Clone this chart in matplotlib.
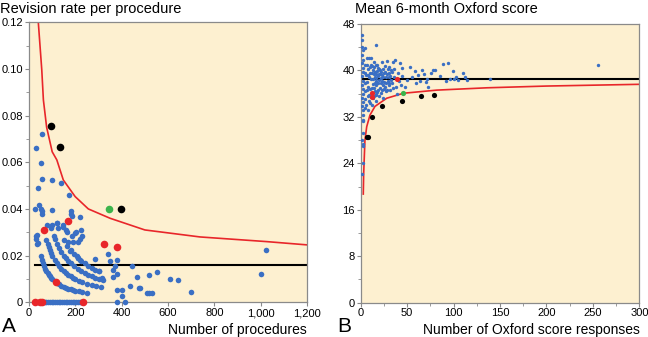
import matplotlib.pyplot as plt
from matplotlib.ticker import MultipleLocator, FuncFormatter

plt.rcParams['font.family'] = ['Liberation Sans', 'DejaVu Sans']

bg = "#fdf0d0"
blue = "#3a6fc4"
red = "#e8262a"
green = "#3cb44b"

# ---- Panel A: revision rate vs number of procedures ----
a_zero_n = [30, 38, 45, 52, 60, 68, 75, 82, 90, 98, 105, 112, 120, 128, 135, 142,
            150, 158, 165, 172, 180, 188, 195, 202, 210, 218, 225, 378, 413]
a_zero_rate = [0.0] * len(a_zero_n)

# points lying on the 1, 2, 3, 4 revision bands
a_band_n = [50, 55, 60, 65, 70, 75, 80, 85, 90, 95, 100, 110, 120, 130, 140, 150, 160,
            170, 180, 190, 200, 215, 230, 250,
            75, 80, 85, 90, 95, 100, 110, 120, 130, 140, 150, 160, 170, 180, 190, 200,
            215, 230, 250, 270, 290, 310,
            110, 120, 130, 140, 150, 160, 170, 180, 195, 210, 225, 240, 255, 270, 285,
            300, 320,
            150, 165, 180, 195, 210, 225, 240, 255, 270, 285, 300]
a_band_rate = [0.020, 0.018, 0.0167, 0.0154, 0.0143, 0.0133, 0.0125, 0.0118, 0.0111,
               0.0105, 0.010, 0.0091, 0.0083, 0.0077, 0.0071, 0.0067, 0.0063, 0.0059,
               0.0056, 0.0053, 0.005, 0.0047, 0.0043, 0.004,
               0.0267, 0.025, 0.0235, 0.0222, 0.021, 0.020, 0.0182, 0.0167, 0.0154,
               0.0143, 0.0133, 0.0125, 0.0118, 0.0111, 0.0105, 0.010, 0.0093, 0.0087,
               0.008, 0.0074, 0.0069, 0.0065,
               0.0273, 0.025, 0.0231, 0.0214, 0.020, 0.0188, 0.0176, 0.0167, 0.0154,
               0.0143, 0.0133, 0.0125, 0.0118, 0.0111, 0.0105, 0.010, 0.0094,
               0.0267, 0.0242, 0.0222, 0.0205, 0.019, 0.0178, 0.0167, 0.0157, 0.0148,
               0.014, 0.0133]

a_scatter_n = [56, 32, 50, 58, 98, 137, 40, 173, 45, 50, 55, 55, 26, 100, 180, 183, 186,
               220, 30, 32, 35, 96, 121, 127, 148, 160, 109, 185, 203, 225, 191, 220,
               228, 170, 177, 206, 212, 220, 284, 343, 350, 380, 372, 362, 443, 302, 313,
               362, 378, 464, 516, 553, 608, 644, 701, 438, 474, 479, 508, 520, 530, 378,
               403, 403, 1002, 1022, 33, 37, 76, 98, 119, 148, 163, 199, 213]
a_scatter_rate = [0.0722, 0.0663, 0.0596, 0.053, 0.0524, 0.051, 0.0489, 0.046, 0.0415,
                  0.040, 0.039, 0.038, 0.040, 0.0395, 0.039, 0.038, 0.037, 0.0364,
                  0.0285, 0.027, 0.025, 0.032, 0.034, 0.032, 0.033, 0.031, 0.0285,
                  0.0285, 0.030, 0.031, 0.026, 0.027, 0.0285, 0.0257, 0.022, 0.020,
                  0.019, 0.018, 0.0185, 0.0205, 0.0176, 0.018, 0.0157, 0.0137, 0.0157,
                  0.0133, 0.0103, 0.0107, 0.0123, 0.011, 0.0118, 0.013, 0.010, 0.0095,
                  0.0045, 0.0068, 0.0063, 0.006, 0.004, 0.004, 0.004, 0.0053, 0.0053,
                  0.0027, 0.012, 0.0223, 0.0289, 0.0253, 0.0331, 0.033, 0.0339, 0.0324,
                  0.0303, 0.0296, 0.026]

a_red_n = [26, 47, 55, 232, 63, 168, 322, 378, 115]
a_red_rate = [0, 0, 0, 0, 0.031, 0.035, 0.025, 0.0237, 0.0087]
a_black_n = [94, 135, 397]
a_black_rate = [0.0756, 0.0666, 0.040]
a_green_n = [345]
a_green_rate = [0.040]

a_limit_n = [36, 40, 55, 62, 76, 100, 120, 148, 199, 256, 350, 500, 738, 1026, 1200]
a_limit_rate = [0.135, 0.12, 0.0996, 0.0867, 0.075, 0.0645, 0.061, 0.0524, 0.0453,
                0.040, 0.036, 0.031, 0.028, 0.026, 0.0246]
a_mean = 0.016

# ---- Panel B: mean 6-month Oxford score vs responses ----
b_n = [1, 1, 1, 2, 1, 2, 1, 2, 2, 1, 2, 1, 3, 2, 1, 3, 1, 2, 2, 3, 3, 2, 1, 2, 3, 2, 1,
       5, 5, 5, 5, 5, 5, 5,
       6.5, 9, 11, 7, 8, 10, 9, 7, 8, 10, 11, 9, 6, 8,
       12, 13, 14, 15, 16, 13, 14, 15, 17, 13, 16, 18, 19, 20, 17, 19, 20, 16, 14, 18, 20,
       21, 22, 23, 24, 25, 22, 26, 27, 28, 29, 30, 24, 27, 30, 26, 23,
       31, 33, 35, 37, 36, 34, 38, 32, 40, 42, 44, 41, 43, 39, 45,
       48, 50, 53, 55, 58, 60, 64, 66, 70, 71, 73, 76, 78, 80, 62, 68,
       85, 89, 94, 99, 100, 103, 105, 110, 112, 115, 139, 256, 92, 96,
       8, 10, 11, 12, 12, 13, 14, 15, 15, 16, 16, 17, 17, 18, 18, 19, 19, 20, 21, 21,
       22, 22, 23, 23, 24, 24, 25, 25, 26, 27, 28, 28, 29, 30, 31, 32, 33, 34, 35, 36,
       6, 7, 9, 11, 14, 10, 12, 8]
b_score = [46.1, 45.2, 44.0, 43.5, 42.6, 41.8, 41.2, 40.4, 39.8, 39.0, 38.2, 37.5, 36.8,
           36.0, 35.2, 34.5, 33.8, 33.2, 32.3, 31.5, 31.2, 29.2, 28.0, 27.3, 27.0, 24.0,
           22.1,
           43.8, 40.9, 39.5, 37.9, 36.4, 35.0, 33.5,
           42.1, 42.1, 42.1, 41.0, 40.2, 39.6, 38.8, 38.0, 37.2, 36.8, 35.5, 34.8, 34.0,
           33.2,
           40.8, 40.0, 39.4, 38.9, 38.2, 37.6, 37.0, 36.4, 35.8, 35.2, 34.8, 39.9, 39.0,
           38.3, 37.4, 36.6, 35.6, 44.4, 41.5, 41.0, 40.3,
           39.4, 38.7, 38.1, 37.5, 36.8, 36.1, 39.8, 38.9, 41.7, 38.2, 40.6, 35.3, 36.5,
           37.4, 40.8, 41.4,
           39.5, 40.1, 41.5, 41.8, 38.8, 37.8, 37.2, 36.6, 39.5, 41.2, 40.4, 38.1, 37.5,
           36.0, 39.0,
           37.1, 38.4, 40.6, 38.9, 39.9, 37.8, 38.1, 40.1, 38.0, 38.6, 37.1, 39.5, 40.0,
           40.1, 39.2, 39.3,
           39.0, 41.1, 41.3, 39.9, 38.5, 38.8, 38.3, 39.6, 38.9, 38.4, 38.6, 40.9, 38.2,
           38.6,
           39.2, 40.5, 38.5, 37.0, 39.6, 38.6, 40.6, 39.8, 37.8, 36.0, 40.9, 39.4, 38.7,
           37.9, 36.3, 40.4, 37.8, 39.4, 37.0, 40.0, 39.7, 37.8, 39.2, 36.6, 38.8, 40.2,
           39.6, 38.0, 37.2, 37.9, 39.4, 36.6, 40.3, 38.8, 37.8, 39.0, 38.4, 39.8, 37.0,
           40.2, 39.2, 36.6, 35.8, 40.9, 35.6, 34.3, 34.0, 35.6]

b_red_n = [12, 12, 39.5]
b_red_score = [36.1, 35.5, 38.5]
b_black_n = [6.4, 7.5, 12.5, 23, 44, 65, 79]
b_black_score = [28.5, 28.5, 32.0, 33.8, 34.8, 35.65, 35.8]
b_green_n = [46]
b_green_score = [36.1]

b_limit_n = [2.8, 3.2, 3.9, 4.6, 6.5, 10, 15.4, 28, 46, 82, 136, 200, 300]
b_limit_score = [18.7, 22.0, 25.1, 28.0, 30.3, 32.3, 33.8, 35.2, 36.06, 36.6, 37.0,
                 37.3, 37.6]
b_mean = 38.53

fig = plt.figure(figsize=(6.48, 3.37), dpi=100)
axA = fig.add_axes([0.0448, 0.103, 0.429, 0.831])
axB = fig.add_axes([0.5566, 0.102, 0.430, 0.827])

for ax in (axA, axB):
    ax.set_facecolor(bg)
    for s in ax.spines.values():
        s.set_color("#8a8a8a")
        s.set_linewidth(0.9)
    ax.tick_params(which="both", direction="out", color="#8a8a8a", labelsize=8,
                   pad=1.2)
    ax.tick_params(which="major", length=3)
    ax.tick_params(which="minor", length=2.2)

# panel A
axA.plot(a_limit_n, a_limit_rate, color=red, lw=1.2, zorder=2)
axA.plot([25, 1200], [a_mean, a_mean], color="black", lw=1.5, zorder=2)
axA.scatter(a_zero_n, a_zero_rate, s=16, color=blue, lw=0, zorder=3, clip_on=False)
axA.scatter(a_band_n, a_band_rate, s=16, color=blue, lw=0, zorder=3)
axA.scatter(a_scatter_n, a_scatter_rate, s=16, color=blue, lw=0, zorder=3)
axA.scatter(a_red_n, a_red_rate, s=30, color=red, lw=0, zorder=4, clip_on=False)
axA.scatter(a_black_n, a_black_rate, s=30, color="black", lw=0, zorder=4)
axA.scatter(a_green_n, a_green_rate, s=30, color=green, lw=0, zorder=4)
axA.set_xlim(0, 1200)
axA.set_ylim(0, 0.12)
axA.xaxis.set_major_locator(MultipleLocator(200))
axA.yaxis.set_major_locator(MultipleLocator(0.02))
axA.yaxis.set_minor_locator(MultipleLocator(0.01))
axA.xaxis.set_major_formatter(FuncFormatter(lambda v, p: f"{int(v):,}"))
axA.yaxis.set_major_formatter(FuncFormatter(lambda v, p: "0" if v == 0 else f"{v:.2f}"))

# panel B
axB.plot(b_limit_n, b_limit_score, color=red, lw=1.2, zorder=2)
axB.plot([0, 300], [b_mean, b_mean], color="black", lw=1.5, zorder=2)
axB.scatter(b_n, b_score, s=6, color=blue, lw=0, zorder=3)
axB.scatter(b_red_n, b_red_score, s=14, color=red, lw=0, zorder=4)
axB.scatter(b_black_n, b_black_score, s=14, color="black", lw=0, zorder=4)
axB.scatter(b_green_n, b_green_score, s=14, color=green, lw=0, zorder=4)
axB.set_xlim(0, 300)
axB.set_ylim(0, 48)
axB.xaxis.set_major_locator(MultipleLocator(50))
axB.xaxis.set_minor_locator(MultipleLocator(25))
axB.yaxis.set_major_locator(MultipleLocator(8))
axB.yaxis.set_minor_locator(MultipleLocator(4))

# titles and labels
fig.text(0.0, 0.972, "Revision rate per procedure", fontsize=10.5, va="center", ha="left")
fig.text(0.548, 0.972, "Mean 6-month Oxford score", fontsize=10.5, va="center", ha="left")
fig.text(0.474, 0.022, "Number of procedures", fontsize=10, va="center", ha="right")
fig.text(0.987, 0.022, "Number of Oxford score responses", fontsize=10, va="center",
         ha="right")
fig.text(0.003, 0.030, "A", fontsize=15, va="center", ha="left")
fig.text(0.520, 0.030, "B", fontsize=15, va="center", ha="left")

plt.savefig("out.png", dpi=100)
plt.close()
